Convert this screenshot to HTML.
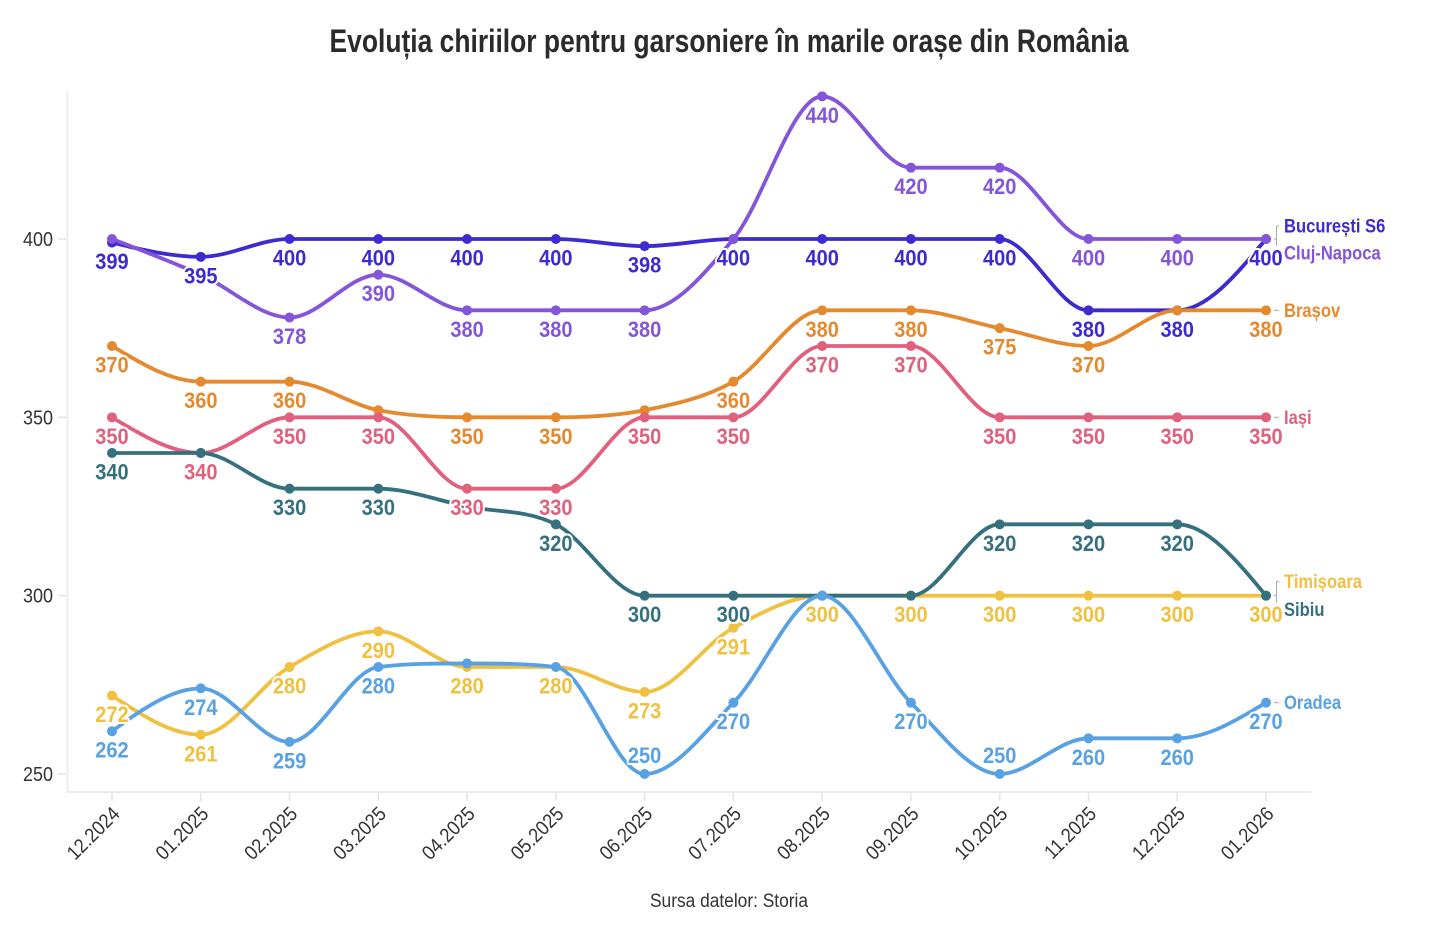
<!DOCTYPE html>
<html lang="ro">
<head>
<meta charset="utf-8">
<title>Evoluția chiriilor pentru garsoniere</title>
<style>
html,body{margin:0;padding:0;background:#fff;}
svg{display:block;font-family:"Liberation Sans",sans-serif;}
</style>
</head>
<body>
<svg id="chart" width="1456" height="932" viewBox="0 0 1456 932" xmlns="http://www.w3.org/2000/svg">
  <rect width="1456" height="932" fill="#fff"/>
  <text x="729" y="52" text-anchor="middle" font-size="32" font-weight="700" fill="#2b2b2b" textLength="799" lengthAdjust="spacingAndGlyphs">Evoluția chiriilor pentru garsoniere în marile orașe din România</text>
  <text x="729" y="907" text-anchor="middle" font-size="19" fill="#333" textLength="158" lengthAdjust="spacingAndGlyphs">Sursa datelor: Storia</text>
  <g id="axes"></g>
  <g id="lines"></g>
  <g id="dots"></g>
  <g id="labels"></g>
  <g id="names"></g>
</svg>
<script>
const categories = ["12.2024","01.2025","02.2025","03.2025","04.2025","05.2025","06.2025","07.2025","08.2025","09.2025","10.2025","11.2025","12.2025","01.2026"];
const yTicks = [250,300,350,400];
const bucuresti = [399,395,400,400,400,400,398,400,400,400,400,380,380,400];
const cluj = [400,390,378,390,380,380,380,400,440,420,420,400,400,400];
const brasov = [370,360,360,352,350,350,352,360,380,380,375,370,380,380];
const iasi = [350,340,350,350,330,330,350,350,370,370,350,350,350,350];
const timisoara = [272,261,280,290,280,280,273,291,300,300,300,300,300,300];
const sibiu = [340,340,330,330,325,320,300,300,300,300,320,320,320,300];
const oradea = [262,274,259,280,281,280,250,270,300,270,250,260,260,270];
const hiddenBucuresti = [];
const hiddenCluj = [0,1,7,13];
const hiddenBrasov = [3,6,12];
const hiddenIasi = [];
const hiddenTimisoara = [];
const hiddenSibiu = [1,4,8,9,13];
const hiddenOradea = [4,5,8];
const aboveOradea = [6,10];

const xOf = i => 112 + i * (1266 - 112) / (categories.length - 1);
const yOf = v => 239 + (400 - v) * (774 - 239) / 150;
const NS = "http://www.w3.org/2000/svg";
function mk(parent, tag, attrs, text){
  const e = document.createElementNS(NS, tag);
  for (const k in attrs) e.setAttribute(k, attrs[k]);
  if (text !== undefined) e.textContent = text;
  parent.appendChild(e);
  return e;
}
function narrow(el, k){
  const w = el.getComputedTextLength();
  el.setAttribute("textLength", (w * k).toFixed(2));
  el.setAttribute("lengthAdjust", "spacingAndGlyphs");
}
function monotonePath(vals){
  const pts = vals.map((v,i)=>[xOf(i),yOf(v)]);
  const n = pts.length, d = [], m = [];
  for (let i=0;i<n-1;i++) d.push((pts[i+1][1]-pts[i][1])/(pts[i+1][0]-pts[i][0]));
  for (let i=1;i<n-1;i++){
    if (d[i-1]*d[i] <= 0) m[i] = 0;
    else {
      const s = (d[i-1]+d[i])/2;
      m[i] = Math.sign(d[i])*Math.min(Math.abs(d[i-1]),Math.abs(d[i]))*Math.min(3, Math.abs(s)/Math.min(Math.abs(d[i-1]),Math.abs(d[i])));
    }
  }
  m[0] = (3*d[0]-m[1])/2;
  m[n-1] = (3*d[n-2]-m[n-2])/2;
  let p = "M"+pts[0][0]+","+pts[0][1];
  for (let i=0;i<n-1;i++){
    const h = (pts[i+1][0]-pts[i][0])/3;
    p += "C"+(pts[i][0]+h)+","+(pts[i][1]+h*m[i])+" "+(pts[i+1][0]-h)+","+(pts[i+1][1]-h*m[i+1])+" "+pts[i+1][0]+","+pts[i+1][1];
  }
  return p;
}

const axes = document.getElementById("axes");
const yAxisLine = mk(axes,"line",{x1:67.5,y1:90,x2:67.5,y2:792,stroke:"#ececec","stroke-width":2});


const xAxisLine = mk(axes,"line",{x1:66.5,y1:792,x2:1311,y2:792,stroke:"#ececec","stroke-width":2});


yTicks.forEach(t=>{
  const tk = mk(axes,"line",{x1:58,y1:yOf(t),x2:66,y2:yOf(t),stroke:"#e4e4e4","stroke-width":1.5});
  
  
  const lb = mk(axes,"text",{x:53,y:yOf(t)+7,"text-anchor":"end","font-size":20,fill:"#333"},t);
  
  
  narrow(lb, 0.9);
});
categories.forEach((c,i)=>{
  const x = xOf(i);
  const tk = mk(axes,"line",{x1:x,y1:793,x2:x,y2:801,stroke:"#e4e4e4","stroke-width":1.5});
  
  
  const lb = mk(axes,"text",{x:x+9,y:815,"text-anchor":"end","font-size":20,fill:"#333",transform:"rotate(-45 "+(x+9)+" 815)"},c);
  
  
  narrow(lb, 0.9);
});

const seriesNames = ["București S6","Cluj-Napoca","Brașov","Iași","Timișoara","Sibiu","Oradea"];
const seriesValues = [bucuresti,cluj,brasov,iasi,timisoara,sibiu,oradea];
const seriesHidden = [hiddenBucuresti,hiddenCluj,hiddenBrasov,hiddenIasi,hiddenTimisoara,hiddenSibiu,hiddenOradea];
const seriesAbove = [[],[],[],[],[],[],aboveOradea];
const seriesColors = ["#3d2bd0","#8455d8","#e5892e","#e0607e","#f0c040","#35707f","#58a2e4"];
const nameOffsets = [-13,14,0,0,-14,14,0];

const gLines = document.getElementById("lines");
const gDots = document.getElementById("dots");
const gLabels = document.getElementById("labels");
const gNames = document.getElementById("names");
seriesValues.forEach((vals,s)=>{
  const col = seriesColors[s];
  const path = mk(gLines,"path",{d:monotonePath(vals),fill:"none",stroke:col,"stroke-width":3.8,"stroke-linecap":"round"});
  
  
  vals.forEach((v,i)=>{
    const dot = mk(gDots,"circle",{cx:xOf(i),cy:yOf(v),r:5,fill:col});
    
    
    if (seriesHidden[s].indexOf(i) === -1){
      const dy = seriesAbove[s].indexOf(i) !== -1 ? -11 : 26.5;
      const lab = mk(gLabels,"text",{x:xOf(i),y:yOf(v)+dy,"text-anchor":"middle","font-size":22,"font-weight":700,fill:col,stroke:"#fff","stroke-width":4,"stroke-linejoin":"round","paint-order":"stroke"},v);
      
      
      narrow(lab, 0.91);
    }
  });
  const lastY = yOf(vals[vals.length-1]);
  const nm = mk(gNames,"text",{x:1284,y:lastY+nameOffsets[s]+6.5,"font-size":19.5,"font-weight":700,fill:col},seriesNames[s]);
  
  
  narrow(nm, 0.85);
  if (nameOffsets[s] === 0){
    const c = mk(gNames,"line",{x1:1274,y1:lastY,x2:1279,y2:lastY,stroke:"#aaa","stroke-width":1});
    
    
  } else if (nameOffsets[s] < 0){
    const c = mk(gNames,"path",{d:"M1279,"+(lastY+nameOffsets[s])+"H1276.5V"+(lastY+7)+"M1274,"+lastY+"H1276.5",fill:"none",stroke:"#aaa","stroke-width":1});
    
    
  }
});
</script>
</body>
</html>
